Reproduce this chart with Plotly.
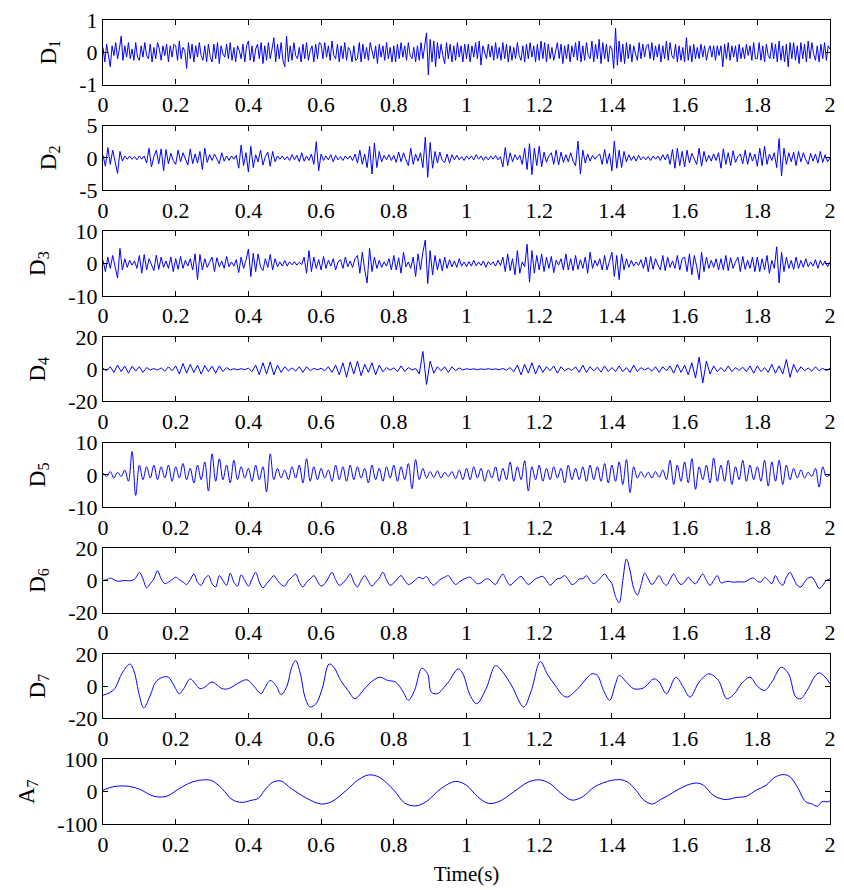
import numpy as np
import plotly.graph_objects as go

# ---------------- data ----------------
x_tickvals = [0, 0.2, 0.4, 0.6, 0.8, 1.0, 1.2, 1.4, 1.6, 1.8, 2.0]
x_ticktext = ["0", "0.2", "0.4", "0.6", "0.8", "1", "1.2", "1.4", "1.6", "1.8", "2"]

labels = ["D<sub>1</sub>", "D<sub>2</sub>", "D<sub>3</sub>", "D<sub>4</sub>",
          "D<sub>5</sub>", "D<sub>6</sub>", "D<sub>7</sub>", "A<sub>7</sub>"]
y_limits = [1, 5, 10, 20, 10, 20, 20, 100]

d1 = [.15,-.3,.25,-.1,-.45,.2,-.1,.3,-.2,.1,.5,-.25,.2,-.15,.3,-.2,.1,-.25,.3,-.15,
      -.25,.2,-.15,.3,-.1,-.2,.25,-.3,.15,-.2,.3,.1,-.25,.2,-.1,.25,-.3,.2,-.15,.25,
      .2,-.25,.35,-.2,.15,.05,-.5,.3,-.2,.25,-.3,.2,-.15,.3,-.1,-.25,.2,-.3,.25,-.15,
      -.3,.25,-.2,.3,-.35,.2,-.05,-.15,.25,-.2,.3,-.25,.15,-.3,.2,.05,-.2,.25,-.3,.2,
      .35,-.25,.2,-.3,.1,.25,-.2,.3,-.35,.2,-.25,.3,-.2,.1,.45,-.3,.25,-.2,.3,-.25,
      -.45,.5,-.3,.2,-.25,.3,-.1,-.2,.15,-.3,.25,-.2,.3,-.25,.05,.2,-.3,.25,-.2,.3,
      .25,-.2,.3,-.15,.2,-.25,.35,-.1,-.2,.25,-.3,.2,-.2,.3,-.25,.15,.05,-.3,.2,-.25,
      -.2,.3,-.3,.25,-.2,.15,-.25,.3,.05,-.2,.2,-.35,.25,-.15,.2,-.25,.3,-.2,.15,-.3,
      .2,-.3,.25,-.2,.3,-.15,.2,-.25,.3,-.1,-.2,.15,-.3,.2,-.25,.3,-.2,.25,.6,-.7,
      .4,-.3,.35,-.45,.3,-.2,.25,-.1,-.35,.3,-.2,.25,-.3,.2,-.25,.3,-.15,.2,-.3,.25,
      -.2,.25,-.3,.2,-.15,.3,-.2,.35,-.4,.2,-.05,-.2,.25,-.15,.2,-.25,.3,-.2,.15,-.25,
      .3,-.2,.25,-.3,.2,-.25,.15,-.2,.3,-.1,-.25,.2,-.3,.25,-.2,.3,-.15,.2,-.3,.25,
      -.25,.35,-.2,.3,-.3,.25,-.2,.15,-.25,.05,.3,-.2,.25,-.35,.2,-.2,.25,-.3,.2,-.15,
      .3,-.25,.35,-.3,.2,-.25,.3,-.1,-.2,.35,-.3,.25,-.2,.4,-.35,.3,-.2,.25,-.3,.2,
      .1,-.5,.75,-.4,.35,-.3,.25,-.35,.3,-.2,.25,-.3,.2,-.05,-.25,.3,-.2,.25,-.15,.2,
      .25,-.2,.3,-.25,.2,-.15,.25,-.3,.2,-.2,.35,-.25,.3,-.1,-.2,.25,-.3,.2,-.25,.15,
      -.3,.45,-.25,.2,-.3,.25,-.2,.15,-.2,.25,-.15,.2,-.25,.05,.2,-.15,.2,-.25,.2,-.1,
      .2,-.45,.25,-.2,.3,-.25,.2,-.15,.2,-.3,.25,-.2,.15,-.2,.25,-.1,.2,-.25,.3,-.2,
      -.2,.3,-.25,.2,-.3,.25,-.1,-.2,.3,-.2,.25,-.3,.35,-.25,.2,-.3,.25,-.45,.3,-.2,
      .3,-.25,.2,-.35,.3,-.2,.25,-.3,.35,-.2,.3,-.05,-.25,.2,-.3,.25,-.2,.3,-.25,.2,
      .1]

d2 = [.4,-1.3,1.6,-1.0,1.2,-.5,-2.4,1.0,-.5,.3,-.2,.3,-.2,.2,-.3,
      .3,-.2,.3,-.8,1.5,-1.4,.2,1.2,-.9,1.4,-2.0,1.3,-.9,.7,-.4,
      -1.0,1.2,-.6,.8,-.3,-1.1,1.4,-.9,.6,-.8,1.0,-1.8,1.5,-.7,.5,
      -.4,.6,-.2,-.9,.8,-.5,.3,-.4,.3,-.2,.4,-1.6,2.0,-1.2,.8,
      -2.2,1.8,-1.5,.5,-.6,1.2,-1.1,.2,.9,-1.3,1.0,-.6,.3,-.2,.3,
      -.3,.2,-.4,.5,-.3,.4,-.6,.8,-.5,.3,-.4,.6,-1.0,2.5,-2.0,
      .6,-.4,.3,-.3,.5,-.6,.4,-.3,.2,-.4,.3,-.2,.3,-.4,.6,
      -.8,1.2,-1.0,.6,-1.5,1.8,-2.5,2.3,-1.5,1.0,-.6,.4,-.3,.5,-.4,
      .4,-.7,.9,-.6,.8,-.3,-1.2,1.5,-1.0,.6,-.5,.8,-1.5,3.2,-3.0,
      2.4,-1.6,1.0,-.8,.9,-.4,-.7,.6,-.8,.5,-.3,.4,-.3,.2,-.4,
      .3,-.2,.3,-.3,.5,-.2,.3,-.4,.2,-.3,.3,-.2,.4,-.3,.2,
      -1.4,1.6,-1.2,.8,-.6,.5,-.3,.4,-1.0,1.5,-1.8,2.2,-2.6,1.5,-1.2,
      1.8,-1.4,.9,-.7,.3,.8,-1.0,1.2,-1.1,.9,-.7,.5,-.6,.8,-.5,
      -1.2,2.6,-2.5,1.2,-.8,.6,-.5,.4,-.2,.3,.6,-1.0,1.3,-.9,.7,
      -2.0,2.6,-1.6,1.2,-1.5,1.0,-.6,.5,-.4,.3,-.5,.4,-.3,.2,-.3,
      .2,-.4,.3,-.2,.3,-.4,.5,-.3,.6,-1.0,1.3,-1.6,1.5,-1.2,1.0,
      -1.4,1.2,-.8,.7,-.3,-1.0,1.5,-1.3,1.0,-.6,.4,-.5,.6,-.4,.8,
      -1.6,1.4,-1.0,.8,-1.2,1.1,-.7,.2,.6,-.9,1.2,-1.0,.8,-.5,.6,
      -1.3,1.5,-1.2,1.8,-1.0,.6,-.4,.8,-1.5,3.0,-2.8,1.5,-1.0,.8,-.6,
      .9,-1.2,1.0,-.6,.8,-.3,-1.0,.7,-.5,.6,-.8,1.0,-.7,.5,-.6,
      0.0]

d3 = [1.0,-2.5,2.0,-1.5,2.5,-1.0,-4.5,4.7,-2.0,1.5,-1.2,1.0,-.5,.8,-1.5,
      2.5,-3.0,2.8,-2.0,1.5,-.5,-2.2,2.6,-1.8,2.0,-1.2,.8,-1.5,2.0,-2.5,
      1.5,-1.8,2.2,-1.5,1.0,-.8,1.5,-2.0,3.0,-5.0,2.8,-2.0,1.5,-1.2,.5,
      2.0,-2.5,1.8,-1.0,.8,-1.5,2.2,-1.0,.5,-.8,1.2,-2.8,2.0,-1.5,1.0,
      4.5,-4.0,3.2,-2.5,3.0,-1.0,-2.2,1.5,-1.2,2.8,-2.0,1.5,-1.0,.5,-.8,
      1.0,-.8,.5,-.4,.6,-.5,.4,-.3,2.0,-3.0,4.0,-2.5,2.0,-1.5,1.2,
      -2.0,2.2,-1.5,1.0,-.8,1.5,-2.0,.5,1.2,-1.5,2.0,-1.0,.8,-1.2,1.5,
      2.5,-3.0,3.5,-2.0,-6.0,4.7,-2.5,2.0,-1.5,1.0,-1.2,.5,-.8,1.5,-2.0,
      2.5,-2.0,1.8,-3.0,3.5,-1.0,.5,-1.5,2.0,-4.0,3.0,-2.0,3.5,7.3,-6.2,
      4.0,-3.5,2.5,-2.0,1.5,-2.2,2.0,-1.5,1.2,-1.0,.8,-1.2,1.5,-.8,.5,
      -1.0,.6,-.8,1.0,-.7,.5,-.6,.8,-1.2,.6,-.4,.5,-.8,1.0,-.6,
      2.0,-2.5,3.0,-2.2,1.5,-3.5,4.0,-3.0,.5,-1.0,6.0,-5.8,4.0,-3.0,2.5,
      -2.0,3.0,-2.5,2.0,-1.5,2.2,-2.8,1.0,-.5,1.5,-2.0,3.0,-2.0,1.5,-2.2,
      2.5,-1.8,1.2,-1.5,2.0,-3.0,3.5,-1.5,1.0,-.8,1.5,-2.0,2.5,-2.0,1.0,
      3.5,-4.0,2.5,-5.0,3.0,-2.0,1.5,-1.2,1.0,-.8,.5,-.6,1.2,-1.5,2.0,
      -2.5,2.2,-1.8,1.5,-.5,-2.0,2.5,-2.2,2.0,-1.2,.8,-1.5,2.5,-2.0,1.5,
      2.0,-2.5,3.0,-3.5,2.5,-1.0,-5.0,3.5,-2.5,2.0,-1.5,1.0,-1.2,1.5,-2.0,
      1.5,-2.0,2.5,-2.2,1.8,-1.5,.5,2.0,-2.5,2.2,-1.8,1.0,-1.5,2.0,-2.5,
      2.0,-2.5,1.5,-2.0,2.5,-3.0,1.0,-1.5,5.2,-6.0,3.5,-2.5,2.0,-1.5,1.0,
      -1.8,2.0,-1.5,1.0,-1.2,1.5,-1.0,.5,-.8,1.2,-1.5,1.0,-.6,.8,-1.0,
      0.5]

d4 = [0.5,-1.0,1.5,-2.0,2.5,-1.5,2.0,-2.5,1.8,-1.2,
      1.5,-2.0,1.0,-0.5,0.4,-0.6,0.8,-1.2,1.5,-1.0,
      2.0,-3.0,3.5,-2.5,3.0,-2.0,2.5,-3.0,2.2,-1.5,
      1.8,-2.5,2.0,-1.5,1.0,-0.5,0.3,-0.4,0.3,-0.3,
      0.6,-1.5,2.5,-3.5,4.0,-3.0,4.5,-3.5,2.5,-2.0,
      1.5,-1.0,0.8,-1.2,1.5,-2.0,1.5,-1.0,0.5,-0.4,
      0.6,-1.0,1.5,-2.0,2.5,-3.5,4.0,-5.0,4.5,-3.0,
      5.0,-4.0,3.0,-2.0,4.0,-3.5,2.5,-1.5,1.0,-0.6,
      0.8,-1.5,2.0,-1.5,1.0,-0.5,0.4,-3.0,11.0,-9.5,
      5.0,-2.5,1.5,-1.0,1.5,-2.0,1.5,-1.0,0.8,-0.5,
      0.3,-0.2,0.2,-0.3,0.2,-0.2,0.3,-0.2,0.2,-0.3,
      0.4,-0.6,1.0,-1.5,2.5,-3.5,3.0,-2.5,4.0,-3.0,
      2.5,-2.0,1.5,-1.0,2.0,-2.5,1.5,-1.0,0.5,-0.8,
      1.5,-2.0,2.5,-2.0,1.5,-1.0,1.2,-1.8,2.0,-1.5,
      1.0,-1.5,2.0,-1.5,1.0,-2.0,2.5,-1.5,1.0,-0.5,
      0.8,-1.2,1.5,-2.0,1.5,-1.0,2.0,-2.5,3.0,-2.0,
      2.5,-3.5,4.0,-5.5,7.5,-8.5,5.0,-3.0,2.0,-1.5,
      1.0,-1.5,2.0,-1.5,1.0,-0.8,1.2,-1.5,2.0,-2.5,
      2.0,-1.5,1.0,-2.0,3.0,-2.5,2.0,-3.0,6.0,-5.0,
      3.0,-2.0,1.5,-1.0,0.8,-1.2,1.5,-1.0,0.5,-0.8,
      0.5]

d5 = [0.5,-0.5,1.0,-1.0,0.8,-0.5,1.5,-2.0,7.2,-6.4,
      3.0,-1.5,2.5,-1.0,3.0,-1.5,2.5,-1.0,3.0,-2.0,
      2.5,-1.0,3.5,-1.5,2.0,-2.5,3.0,-1.5,4.0,-5.0,
      6.5,-2.0,5.0,-1.5,3.0,-2.5,4.5,-1.5,2.5,-1.0,
      2.0,-2.0,3.0,-1.5,2.5,-5.3,6.5,-1.5,2.0,-1.0,
      1.5,-1.5,2.5,-1.0,3.0,-2.5,5.0,-2.0,2.5,-1.5,
      2.0,-1.0,1.5,-2.0,3.0,-1.5,2.5,-2.0,3.0,-1.5,
      2.5,-1.0,2.0,-2.5,3.0,-1.5,2.0,-2.0,2.5,-1.0,
      3.0,-2.0,2.5,-1.5,3.5,-4.3,4.7,-1.5,2.0,-1.0,
      1.0,-0.8,1.2,-1.0,0.8,-0.5,1.0,-1.2,1.5,-1.5,
      2.0,-1.5,2.5,-1.0,2.0,-2.0,1.5,-1.0,2.5,-2.0,
      2.0,-1.5,4.0,-2.0,2.5,-1.5,4.4,-5.0,2.5,-1.5,
      3.0,-2.0,2.0,-1.5,2.5,-1.0,2.0,-2.5,3.0,-1.5,
      2.0,-1.5,2.5,-2.0,3.0,-1.5,2.5,-2.0,3.5,-2.5,
      3.0,-2.0,4.0,-3.0,4.7,-5.5,2.5,-1.0,1.0,-0.8,
      0.8,-1.0,1.0,-0.8,1.5,-1.5,4.5,-3.0,3.0,-2.0,
      4.0,-2.5,5.0,-4.5,2.5,-1.5,3.0,-2.5,5.2,-2.0,
      3.0,-2.0,4.5,-3.0,2.5,-1.5,4.5,-2.0,3.0,-1.5,
      2.5,-2.0,4.5,-3.5,4.0,-2.0,4.5,-3.0,3.0,-1.5,
      2.0,-1.0,1.5,-1.0,0.8,-0.5,2.0,-3.8,2.5,-0.5,
      0.0]

d6 = [0,0.5,1.5,0.5,-0.5,-0.3,0,-0.2,0,1.5,
      5.0,1.0,-4.5,-2.0,1.0,6.0,1.0,-2.0,-1.0,0.5,
      2.0,0.5,-1.0,-2.5,0.5,4.0,-1.0,-3.0,1.0,3.0,
      -2.0,-4.0,3.0,0,-3.0,4.5,-1.0,-3.5,3.5,0,
      -3.5,1.0,5.0,-1.0,-4.5,-2.0,0.5,3.0,0,-2.5,
      -3.5,0,2.0,4.0,-1.0,-4.0,-1.0,1.0,3.0,-0.5,
      -3.5,-2.0,1.5,5.0,0.5,-3.0,-1.5,1.0,4.0,-1.0,
      -4.0,0,3.0,-0.5,-3.5,-1.0,1.5,5.0,0.5,-3.0,
      -1.5,1.0,3.0,0,-2.5,-1.5,0.5,2.0,1.0,2.5,
      -1.0,-3.0,-1.0,1.0,2.0,3.0,0,-2.5,-1.0,0.5,
      1.5,2.0,0,-2.0,-1.5,0.5,1.0,-1.0,-2.5,1.0,
      4.0,0,-3.0,-1.0,1.0,2.5,0,-2.5,-1.0,1.0,
      2.0,2.5,0,-3.0,-1.0,1.0,1.5,3.0,0.5,-2.5,
      -1.5,1.0,1.0,3.0,0,-2.0,-0.5,2.0,4.0,1.0,
      -2.0,-10.0,-13.7,0,13.3,6.0,-5.0,-9.0,-3.0,4.5,
      1.0,-2.5,0,3.0,-1.0,-3.0,0.5,4.0,0,-2.5,
      -1.0,2.0,-0.5,-2.0,1.0,4.0,0,-3.0,0,3.0,
      -1.5,-1.0,-0.5,-1.0,-1.0,-0.8,-1.0,-0.5,1.0,1.5,
      -0.5,-1.0,2.0,0,-2.0,3.0,-1.0,-3.0,2.0,5.0,
      1.0,-3.0,-4.0,-1.0,1.5,2.0,-1.0,-5.0,-3.0,0,
      1.0]

d7_t = [0,0.028,0.054,0.074,0.086,0.1,0.112,0.13,0.145,0.164,0.18,0.196,0.21,0.222,
        0.24,0.254,0.267,0.28,0.3,0.328,0.345,0.377,0.396,0.415,0.435,0.444,0.46,
        0.477,0.49,0.506,0.519,0.53,0.542,0.557,0.57,0.586,0.603,0.622,0.635,0.654,
        0.674,0.693,0.712,0.732,0.761,0.783,0.805,0.826,0.84,0.857,0.877,0.893,0.903,
        0.919,0.95,0.977,0.99,1.01,1.028,1.054,1.08,1.1,1.125,1.157,1.177,1.203,1.222,
        1.241,1.274,1.306,1.345,1.36,1.377,1.394,1.41,1.42,1.44,1.46,1.486,1.516,1.53,
        1.55,1.576,1.596,1.615,1.64,1.667,1.693,1.716,1.737,1.756,1.78,1.8,1.82,1.84,
        1.866,1.886,1.906,1.92,1.937,1.957,1.97,1.987,2.0]
d7 = [-5.7,-2.7,8.6,13.7,8.6,-5.7,-13.5,-5.7,2.5,5.5,5.5,0,-4.7,-1.6,
      4.5,1.4,-1.6,-0.6,2.5,-1.6,-1.6,2.5,3.9,0,-4.7,-1.6,3.5,
      0,-5.3,0,11.7,15.8,8.6,-7.8,-12.9,-10.9,-1.6,13.7,11.7,3.5,
      -2.7,-7.8,-3.7,1.4,5.5,3.5,2.5,-3.7,-8.8,-2.7,11.0,7.6,-3.7,
      -4.7,2.5,10.7,7.6,-5.7,-10.9,-1.6,12.7,8.6,0,-12.9,-3.7,15.2,7.6,
      1.4,-6.8,-1.6,7.6,6.6,-2.7,-8.8,1.4,6.6,2.5,-1.6,-1.2,4.5,2.5,
      -4.7,5.5,-0.6,-6.8,2.5,7.6,3.5,-7.8,-4.7,1.4,5.5,0,-2.7,2.5,
      11.7,7.6,-6.8,-7.8,-2.7,5.5,8.2,5.5,1.4]

a7_t = [0,0.03,0.07,0.1,0.14,0.175,0.21,0.245,0.28,0.3,0.327,0.355,0.382,0.41,0.427,
        0.445,0.468,0.49,0.518,0.56,0.6,0.63,0.67,0.7,0.73,0.76,0.8,0.83,0.86,0.89,
        0.93,0.97,1.0,1.03,1.06,1.09,1.13,1.17,1.2,1.23,1.26,1.29,1.32,1.352,1.398,
        1.425,1.443,1.466,1.488,1.511,1.534,1.556,1.579,1.606,1.633,1.652,1.679,1.711,
        1.742,1.77,1.797,1.824,1.847,1.869,1.888,1.91,1.933,1.951,1.965,1.978,1.995,2.0]
a7 = [5,16,17,8,-14,-14,10,30,37,34,10,-24,-33,-26,-21,
      5,30,33,10,-20,-38,-30,5,35,52,45,5,-35,-44,-30,
      10,32,20,-15,-36,-30,0,30,37,25,-5,-26,-15,15,35,
      37,30,5,-26,-38,-24,-11,5,20,27,20,-11,-24,
      -18,-14,5,20,44,53,48,15,-31,-38,-45,-31,-31,-28]

# ---------------- figure ----------------
W, H = 844, 890
ML, MR, MT, MB = 103, 8, 14, 66
PH = H - MT - MB
panel_h = 65
pitch = 745 / 7
FONT = "Liberation Serif"
BLUE = "#0000FF"

series = [
    (None, d1, "linear"), (None, d2, "linear"), (None, d3, "linear"),
    (None, d4, "linear"), (None, d5, "spline"), (None, d6, "spline"),
    (d7_t, d7, "spline"), (a7_t, a7, "spline"),
]

fig = go.Figure()
layout = dict(
    width=W, height=H, margin=dict(l=ML, r=MR, t=MT, b=MB),
    paper_bgcolor="white", plot_bgcolor="white", showlegend=False,
    font=dict(family=FONT, size=22, color="black"),
)

for k, (tx, vals, shape) in enumerate(series):
    n = k + 1
    xs = tx if tx is not None else np.linspace(0, 2, len(vals))
    fig.add_trace(go.Scatter(
        x=xs, y=vals, mode="lines",
        line=dict(color=BLUE, width=1, shape=shape),
        xaxis=f"x{n}", yaxis=f"y{n}", hoverinfo="skip",
    ))
    top = k * pitch
    dom = [1 - (top + panel_h) / PH, 1 - top / PH]
    lim = y_limits[k]
    common = dict(showline=True, linecolor="black", linewidth=1.2, mirror="ticks",
                  ticks="inside", ticklen=5, tickwidth=1, tickcolor="black",
                  showgrid=False, zeroline=False,
                  tickfont=dict(family=FONT, size=22, color="black"))
    xa = dict(common, domain=[0, 1], range=[0, 2], anchor=f"y{n}",
              tickmode="array", tickvals=x_tickvals, ticktext=x_ticktext)
    if k == 7:
        xa["title"] = dict(text="Time(s)", font=dict(family=FONT, size=21), standoff=10)
    ya = dict(common, domain=dom, range=[-lim, lim], anchor=f"x{n}",
              tickmode="array", tickvals=[-lim, 0, lim],
              ticktext=[f"-{lim}", "0", f"{lim}"],
              title=dict(text=labels[k], font=dict(family=FONT, size=23), standoff=16))
    layout["xaxis" if n == 1 else f"xaxis{n}"] = xa
    layout["yaxis" if n == 1 else f"yaxis{n}"] = ya

fig.update_layout(**layout)
fig.write_html("out.html")
